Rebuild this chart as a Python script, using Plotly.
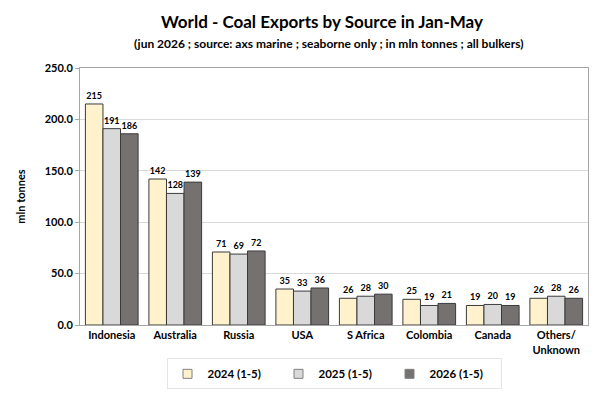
import plotly.graph_objects as go

categories = ["Indonesia", "Australia", "Russia", "USA", "S Africa", "Colombia", "Canada", "Others/<br>Unknown"]
series_names = ["2024 (1-5)", "2025 (1-5)", "2026 (1-5)"]
v2024 = [215, 142, 71, 35, 26, 25, 19, 26]
v2025 = [191, 128, 69, 33, 28, 19, 20, 28]
v2026 = [186, 139, 72, 36, 30, 21, 19, 26]
colors = ["#FFF2CC", "#D9D9D9", "#767171"]
y_ticks = [0, 50, 100, 150, 200, 250]

FONT = "Lato, Carlito, Open Sans, sans-serif"

fig = go.Figure()
for name, vals, col in zip(series_names, [v2024, v2025, v2026], colors):
    fig.add_trace(go.Bar(
        x=categories, y=vals, name=name, showlegend=False,
        marker=dict(color=col, line=dict(color="#3A3A3A", width=1)),
        text=[str(v) for v in vals], textposition="outside",
        textfont=dict(family=FONT, size=9, color="#000000", weight="bold"),
        cliponaxis=False,
    ))
# legend entries with small square swatches
for name, col in zip(series_names, colors):
    fig.add_trace(go.Scatter(
        x=[None], y=[None], mode="markers", name=name,
        marker=dict(symbol="square", size=9, color=col, line=dict(color="#808080", width=1)),
    ))

fig.update_layout(
    width=600, height=412,
    margin=dict(l=80, r=12, t=68, b=87),
    paper_bgcolor="white", plot_bgcolor="white",
    barmode="group", bargap=0.17, bargroupgap=0,
    font=dict(family=FONT, color="#000000"),
    showlegend=True,
    legend=dict(
        orientation="h", x=(334 - 80) / 508, xanchor="center", y=-0.19, yanchor="middle",
        font=dict(family=FONT, size=11.5, color="#000000", weight="bold"),
        bordercolor="#E4E4E4", borderwidth=1, bgcolor="white",
        itemwidth=30, entrywidth=66,
    ),
    annotations=[
        dict(text="<b>World - Coal Exports by Source in Jan-May</b>", xref="paper", yref="paper",
             x=(322 - 80) / 508, y=1 + (68 - 22) / 257, xanchor="center", yanchor="middle",
             showarrow=False, font=dict(family=FONT, size=17, color="#000000")),
        dict(text="<b>(jun 2026 ; source: axs marine ; seaborne only ; in mln tonnes ; all bulkers)</b>",
             xref="paper", yref="paper",
             x=(328 - 80) / 508, y=1 + (68 - 44) / 257, xanchor="center", yanchor="middle",
             showarrow=False, font=dict(family=FONT, size=12, color="#000000")),
    ],
)
fig.update_xaxes(
    showline=True, linecolor="#A6A6A6", linewidth=1, mirror=True,
    ticks="", tickfont=dict(family=FONT, size=11, color="#000000", weight="bold"),
    showgrid=False,
)
fig.update_yaxes(
    range=[0, 250], tickvals=y_ticks, ticktext=[f"{t:.1f}" for t in y_ticks],
    showline=True, linecolor="#A6A6A6", linewidth=1, mirror=True,
    ticks="outside", ticklen=4, tickcolor="#A6A6A6",
    showgrid=True, gridcolor="#D9D9D9", gridwidth=1,
    tickfont=dict(family=FONT, size=11, color="#000000", weight="bold"),
    title=dict(text="mln tonnes", font=dict(family=FONT, size=11, color="#000000", weight="bold"), standoff=16),
    zeroline=False,
)

fig.write_html("out.html")
